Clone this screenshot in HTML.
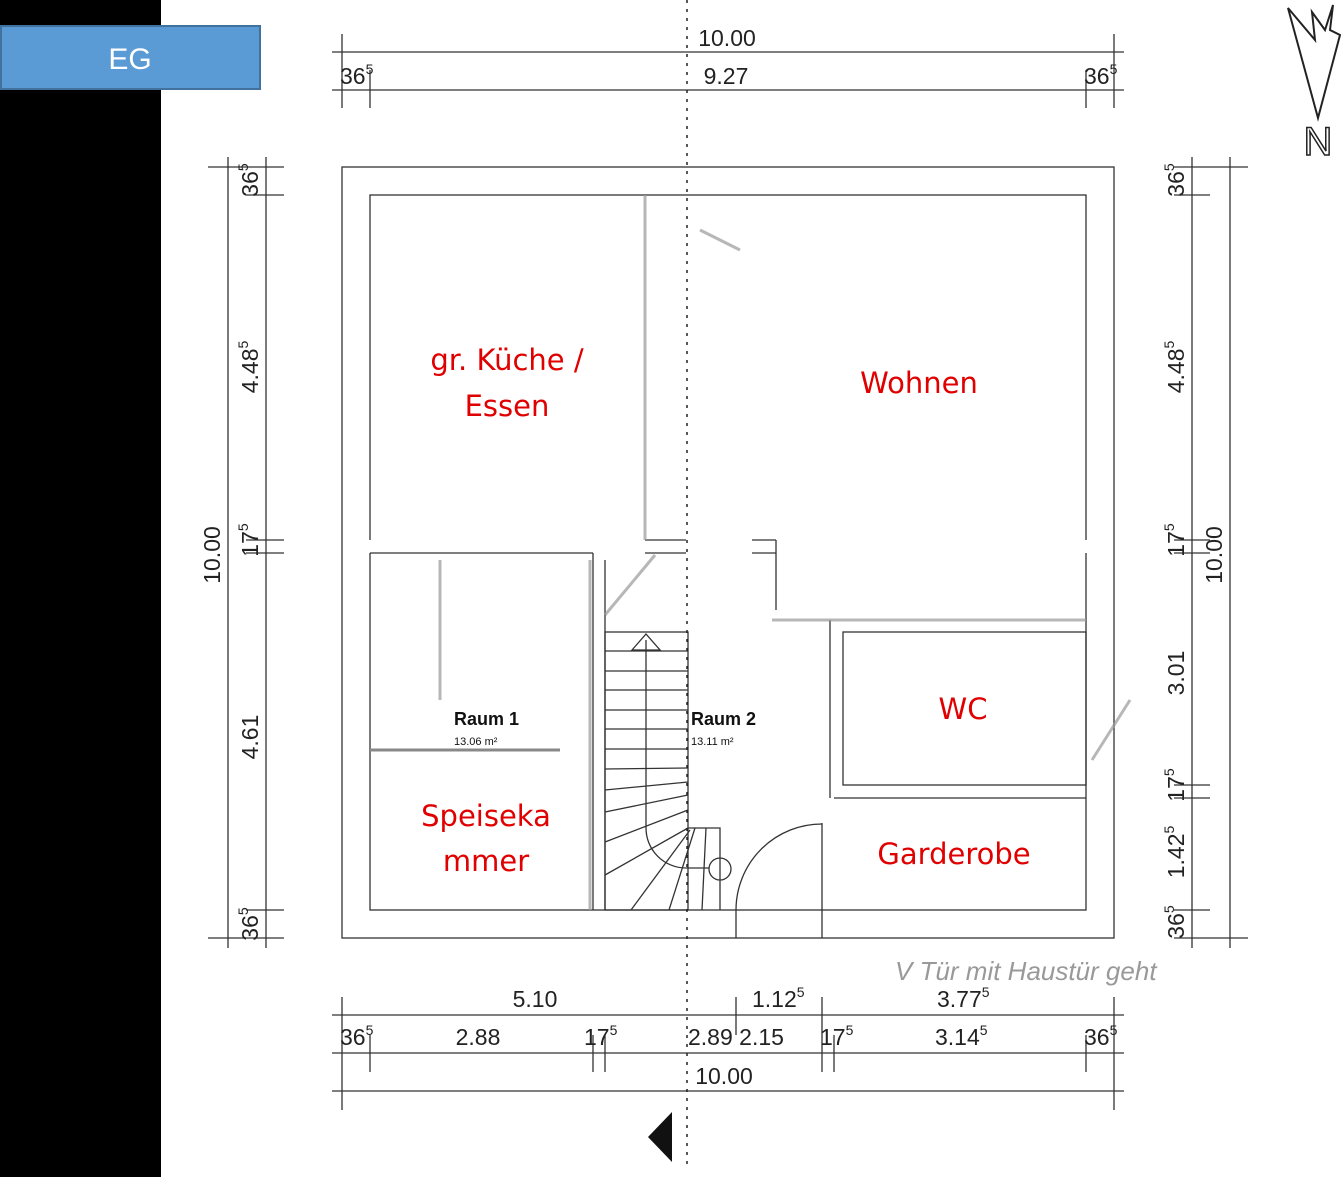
<!DOCTYPE html>
<html><head><meta charset="utf-8"><style>
html,body{margin:0;padding:0;background:#fff}
svg{display:block}
text{font-family:"Liberation Sans",sans-serif}
.d{font-size:23px;fill:#222}
.r{font-size:29px;fill:#e00000;font-family:"DejaVu Sans","Liberation Sans",sans-serif}
</style></head><body>
<svg width="1341" height="1177" viewBox="0 0 1341 1177" xmlns="http://www.w3.org/2000/svg">
<rect width="1341" height="1177" fill="#fff"/>
<rect x="0" y="0" width="161" height="1177" fill="#000"/>
<rect x="1" y="26" width="259" height="63" fill="#5b9bd5" stroke="#41719c" stroke-width="2"/>
<text x="130" y="69" text-anchor="middle" font-size="30" fill="#fff">EG</text>

<g stroke="#333" stroke-width="1.3" fill="none">
<!-- outer walls -->
<rect x="342" y="167" width="772" height="771"/>
<rect x="370" y="195" width="716" height="715"/>
<!-- dimension lines top -->
<line x1="332" y1="52" x2="1124" y2="52"/><line x1="332" y1="90" x2="1124" y2="90"/>
<line x1="342" y1="34" x2="342" y2="108"/><line x1="370" y1="70" x2="370" y2="108"/>
<line x1="1086" y1="70" x2="1086" y2="108"/><line x1="1114" y1="34" x2="1114" y2="108"/>
<!-- left -->
<line x1="228" y1="157" x2="228" y2="948"/><line x1="266" y1="157" x2="266" y2="948"/>
<line x1="208" y1="167" x2="284" y2="167"/><line x1="246" y1="195" x2="284" y2="195"/>
<line x1="246" y1="540" x2="284" y2="540"/><line x1="246" y1="553" x2="284" y2="553"/>
<line x1="246" y1="910" x2="284" y2="910"/><line x1="208" y1="938" x2="284" y2="938"/>
<!-- right -->
<line x1="1192" y1="157" x2="1192" y2="948"/><line x1="1230" y1="157" x2="1230" y2="948"/>
<line x1="1174" y1="167" x2="1248" y2="167"/><line x1="1174" y1="195" x2="1210" y2="195"/>
<line x1="1174" y1="540" x2="1210" y2="540"/><line x1="1174" y1="553" x2="1210" y2="553"/>
<line x1="1174" y1="785" x2="1210" y2="785"/><line x1="1174" y1="798" x2="1210" y2="798"/>
<line x1="1174" y1="910" x2="1210" y2="910"/><line x1="1174" y1="938" x2="1248" y2="938"/>
<!-- bottom -->
<line x1="332" y1="1015" x2="1124" y2="1015"/><line x1="332" y1="1053" x2="1124" y2="1053"/><line x1="332" y1="1091" x2="1124" y2="1091"/>
<line x1="342" y1="997" x2="342" y2="1110"/><line x1="370" y1="1035" x2="370" y2="1072"/>
<line x1="593" y1="1035" x2="593" y2="1072"/><line x1="605" y1="1035" x2="605" y2="1072"/>
<line x1="736" y1="997" x2="736" y2="1035"/><line x1="822" y1="997" x2="822" y2="1072"/>
<line x1="834" y1="1035" x2="834" y2="1072"/><line x1="1086" y1="1035" x2="1086" y2="1072"/>
<line x1="1114" y1="997" x2="1114" y2="1110"/>
<!-- interior walls -->
<line x1="370" y1="540" x2="370" y2="553" stroke="#fff" stroke-width="3"/>
<line x1="1086" y1="540" x2="1086" y2="553" stroke="#fff" stroke-width="3"/>
<line x1="370" y1="553" x2="593" y2="553"/>
<line x1="593" y1="553" x2="593" y2="910"/><line x1="605" y1="560" x2="605" y2="910"/>
<line x1="645" y1="540" x2="686" y2="540"/><line x1="645" y1="553" x2="686" y2="553"/>
<line x1="752" y1="540" x2="776" y2="540"/><line x1="752" y1="553" x2="776" y2="553"/>
<line x1="776" y1="540" x2="776" y2="610"/>
<rect x="843" y="632" width="243" height="153"/>
<line x1="830" y1="620" x2="830" y2="798"/>
<line x1="834" y1="798" x2="1086" y2="798"/>
<!-- stairs -->
<rect x="605" y="632" width="83" height="278"/>
<line x1="605" y1="651" x2="688" y2="651"/><line x1="605" y1="671" x2="688" y2="671"/>
<line x1="605" y1="690" x2="688" y2="690"/><line x1="605" y1="710" x2="688" y2="710"/>
<line x1="605" y1="729" x2="688" y2="729"/><line x1="605" y1="749" x2="688" y2="749"/>
<line x1="605" y1="769" x2="688" y2="768"/><line x1="605" y1="790" x2="688" y2="782"/>
<line x1="605" y1="812" x2="688" y2="795"/><line x1="605" y1="842" x2="688" y2="810"/>
<line x1="605" y1="875" x2="688" y2="828"/><line x1="631" y1="910" x2="690" y2="830"/>
<line x1="669" y1="910" x2="695" y2="828"/><line x1="702" y1="910" x2="706" y2="828"/>
<polyline points="688,828 720,828 720,910"/>
<circle cx="720" cy="869" r="11"/>
<path d="M646,640 V828 A40,40 0 0 0 686,868 H709"/>
<polygon points="632,650 646,634 660,650"/>
<!-- door -->
<line x1="736" y1="910" x2="736" y2="938"/><line x1="822" y1="823" x2="822" y2="938"/>
<path d="M736,910 A86,86 0 0 1 822,824"/>
<line x1="370" y1="750" x2="560" y2="750" stroke="#888" stroke-width="3"/>
</g>
<line x1="687" y1="0" x2="687" y2="1165" stroke="#222" stroke-width="1.5" stroke-dasharray="3,6"/>
<!-- sketch strokes -->
<g stroke="#999" stroke-width="3" fill="none" opacity="0.7">
<path d="M645,195 V540"/><path d="M605,615 L655,555"/><path d="M772,620 H1086"/><path d="M590,560 V910"/>
<path d="M1092,760 L1130,700"/><path d="M700,230 L740,250"/><path d="M440,560 V700"/>
</g>
<!-- dimension text -->
<text class="d" x="727" y="46" text-anchor="middle">10.00</text>
<text class="d" x="726" y="84" text-anchor="middle">9.27</text>
<text class="d" x="340" y="84">36<tspan font-size="14" dy="-10">5</tspan></text>
<text class="d" x="1084" y="84">36<tspan font-size="14" dy="-10">5</tspan></text>
<text class="d" x="535" y="1007" text-anchor="middle">5.10</text>
<text class="d" x="752" y="1007">1.12<tspan font-size="14" dy="-10">5</tspan></text>
<text class="d" x="937" y="1007">3.77<tspan font-size="14" dy="-10">5</tspan></text>
<text class="d" x="340" y="1045">36<tspan font-size="14" dy="-10">5</tspan></text>
<text class="d" x="478" y="1045" text-anchor="middle">2.88</text>
<text class="d" x="584" y="1045">17<tspan font-size="14" dy="-10">5</tspan></text>
<text class="d" x="688" y="1045">2.89 2.15</text>
<text class="d" x="820" y="1045">17<tspan font-size="14" dy="-10">5</tspan></text>
<text class="d" x="935" y="1045">3.14<tspan font-size="14" dy="-10">5</tspan></text>
<text class="d" x="1084" y="1045">36<tspan font-size="14" dy="-10">5</tspan></text>
<text class="d" x="724" y="1084" text-anchor="middle">10.00</text>
<g class="d">
<text transform="translate(220,555) rotate(-90)" text-anchor="middle" class="d">10.00</text>
<text transform="translate(258,180) rotate(-90)" text-anchor="middle" class="d">36<tspan font-size="14" dy="-10">5</tspan></text>
<text transform="translate(258,367) rotate(-90)" text-anchor="middle" class="d">4.48<tspan font-size="14" dy="-10">5</tspan></text>
<text transform="translate(258,540) rotate(-90)" text-anchor="middle" class="d">17<tspan font-size="14" dy="-10">5</tspan></text>
<text transform="translate(258,737) rotate(-90)" text-anchor="middle" class="d">4.61</text>
<text transform="translate(258,924) rotate(-90)" text-anchor="middle" class="d">36<tspan font-size="14" dy="-10">5</tspan></text>
<text transform="translate(1222,555) rotate(-90)" text-anchor="middle" class="d">10.00</text>
<text transform="translate(1184,180) rotate(-90)" text-anchor="middle" class="d">36<tspan font-size="14" dy="-10">5</tspan></text>
<text transform="translate(1184,367) rotate(-90)" text-anchor="middle" class="d">4.48<tspan font-size="14" dy="-10">5</tspan></text>
<text transform="translate(1184,540) rotate(-90)" text-anchor="middle" class="d">17<tspan font-size="14" dy="-10">5</tspan></text>
<text transform="translate(1184,673) rotate(-90)" text-anchor="middle" class="d">3.01</text>
<text transform="translate(1184,785) rotate(-90)" text-anchor="middle" class="d">17<tspan font-size="14" dy="-10">5</tspan></text>
<text transform="translate(1184,852) rotate(-90)" text-anchor="middle" class="d">1.42<tspan font-size="14" dy="-10">5</tspan></text>
<text transform="translate(1184,922) rotate(-90)" text-anchor="middle" class="d">36<tspan font-size="14" dy="-10">5</tspan></text>
</g>
<!-- room labels -->
<text x="454" y="725" font-size="18" font-weight="bold" fill="#111">Raum 1</text>
<text x="454" y="745" font-size="11" fill="#111">13.06 m²</text>
<text x="691" y="725" font-size="18" font-weight="bold" fill="#111">Raum 2</text>
<text x="691" y="745" font-size="11" fill="#111">13.11 m²</text>
<text class="r" x="507" y="370" text-anchor="middle">gr. Küche /</text>
<text class="r" x="507" y="416" text-anchor="middle">Essen</text>
<text class="r" x="919" y="393" text-anchor="middle">Wohnen</text>
<text class="r" x="963" y="719" text-anchor="middle">WC</text>
<text class="r" x="486" y="826" text-anchor="middle">Speiseka</text>
<text class="r" x="486" y="871" text-anchor="middle">mmer</text>
<text class="r" x="954" y="864" text-anchor="middle">Garderobe</text>
<text x="895" y="980" font-size="26" fill="#999" font-style="italic" font-family="Liberation Serif,serif">V Tür mit   Haustür geht</text>
<!-- north arrow -->
<path d="M1288,8 L1315,40 L1312,12 L1325,30 L1333,5 L1330,30 L1340,35 L1318,118 Z" fill="none" stroke="#222" stroke-width="2"/>
<text x="1318" y="155" text-anchor="middle" font-size="40" font-family="Liberation Serif,serif" fill="none" stroke="#222" stroke-width="1.5">N</text>
<!-- entry arrow -->
<polygon points="648,1137 672,1112 672,1162" fill="#111"/>
</svg>
</body></html>
